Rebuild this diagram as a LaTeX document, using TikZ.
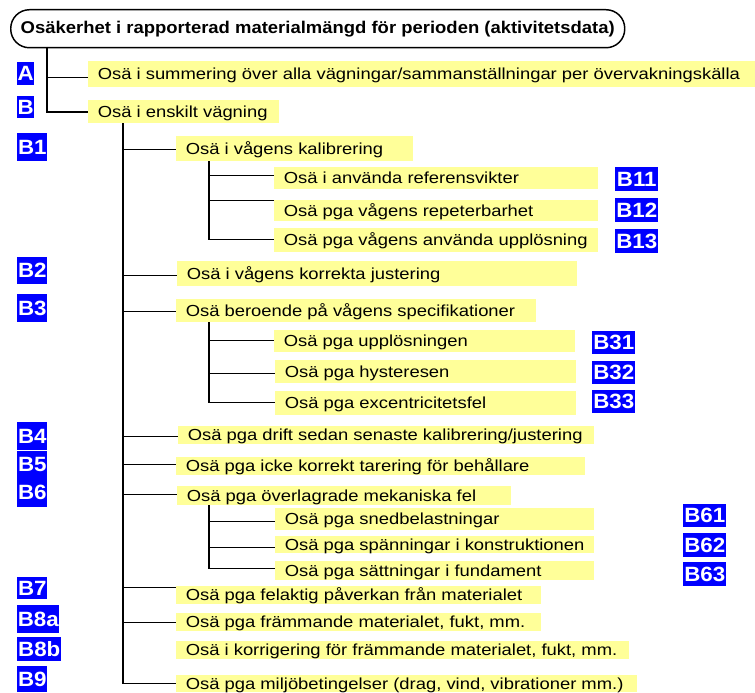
\documentclass[tikz,border=0pt]{standalone}
\usepackage{fontspec}
\setmainfont{Liberation Sans}
\usetikzlibrary{calc}
\definecolor{boxyellow}{HTML}{FFFF99}
\definecolor{lblblue}{HTML}{0000FF}
\newcommand{\sxt}[1]{\scalebox{1.15}[1]{#1}}
\tikzset{
  ybox/.style={fill=boxyellow, draw=none, inner sep=0pt, anchor=north west},
  txt/.style={inner sep=0pt, font=\fontsize{12}{14}\selectfont},
  lblbox/.style={fill=lblblue, draw=none, inner sep=0pt, anchor=north west, text=white,
    font=\fontsize{15.5}{16}\selectfont\bfseries},
  conn/.style={draw=black, line width=1.1pt},
  titlebox/.style={draw=black, line width=1.1pt, rounded corners=14pt, inner sep=0pt,
    anchor=north west, font=\fontsize{12.75}{14}\selectfont\bfseries}
}
\newcommand{\ybx}[6]{%
  \node[ybox, minimum width={(#4-#2)*0.75pt}, minimum height={(#5-#3)*0.75pt}] (#1) at (#2,#3) {};
  \node[txt, anchor=base west] (#1t) at ($(#1.west)+(9.5,5.5)$) {\sxt{#6}};
}
\newcommand{\lbx}[6]{%
  \node[lblbox, minimum width={(#4-#2)*0.75pt}, minimum height={(#5-#3)*0.75pt}] (#1) at (#2,#3) {\scalebox{1.08}[1]{#6}};
}
\newcommand{\jn}[2]{\path ($(#1.west)+(0,#2)$) coordinate (#1j);}
\begin{document}
\begin{tikzpicture}[x=0.75pt, y=-0.75pt]
\useasboundingbox (0,0) rectangle (755,692);
% title
\node[titlebox, minimum width={614*0.75pt}, minimum height={38*0.75pt}] (T) at (10,9)
  {\scalebox{1.086}[1]{Osäkerhet i rapporterad materialmängd för perioden (aktivitetsdata)}};
% yellow boxes
\ybx{A}{88}{61}{755}{87}{Osä i summering över alla vägningar/sammanställningar per övervakningskälla}
\ybx{B}{88}{100}{279}{123}{Osä i enskilt vägning}
\ybx{B1}{176}{136}{413}{161}{Osä i vågens kalibrering}
\ybx{B11}{274}{167}{598}{189}{Osä i använda referensvikter}
\ybx{B12}{274}{200}{598}{221}{Osä pga vågens repeterbarhet}
\ybx{B13}{274}{228}{598}{252}{Osä pga vågens använda upplösning}
\ybx{B2}{177}{261}{577}{286}{Osä i vågens korrekta justering}
\ybx{B3}{176}{299}{536}{322}{Osä beroende på vågens specifikationer}
\ybx{B31}{274}{330}{575}{352}{Osä pga upplösningen}
\ybx{B32}{275}{360}{576}{383}{Osä pga hysteresen}
\ybx{B33}{275}{391}{576}{415}{Osä pga excentricitetsfel}
\ybx{B4}{178}{426}{594}{444}{Osä pga drift sedan senaste kalibrering/justering}
\ybx{B5}{176}{457}{585}{475}{Osä pga icke korrekt tarering för behållare}
\ybx{B6}{177}{486}{511}{505}{Osä pga överlagrade mekaniska fel}
\ybx{B61}{275}{508}{594}{530}{Osä pga snedbelastningar}
\ybx{B62}{275}{536}{594}{553}{Osä pga spänningar i konstruktionen}
\ybx{B63}{275}{561}{594}{580}{Osä pga sättningar i fundament}
\ybx{B7}{176}{586}{541}{604}{Osä pga felaktig påverkan från materialet}
\ybx{B8a}{176}{613}{541}{631}{Osä pga främmande materialet, fukt, mm.}
\ybx{B8b}{176}{641}{629}{659}{Osä i korrigering för främmande materialet, fukt, mm.}
\ybx{B9}{176}{675}{637}{692}{Osä pga miljöbetingelser (drag, vind, vibrationer mm.)}
% labels
\lbx{lA}{17}{62}{34}{85}{A}
\lbx{lB}{17}{96}{34}{118}{B}
\lbx{lB1}{17}{133}{47}{161}{B1}
\lbx{lB11}{615}{167}{658}{191}{B11}
\lbx{lB12}{615}{198}{658}{222}{B12}
\lbx{lB13}{615}{229}{658}{253}{B13}
\lbx{lB2}{17}{257}{47}{284}{B2}
\lbx{lB3}{17}{294}{47}{322}{B3}
\lbx{lB31}{592}{331}{635}{354}{B31}
\lbx{lB32}{592}{361}{635}{384}{B32}
\lbx{lB33}{592}{390}{635}{413}{B33}
\lbx{lB4}{17}{422}{47}{450}{B4}
\lbx{lB5}{17}{451}{47}{478}{B5}
\lbx{lB6}{17}{478}{47}{507}{B6}
\lbx{lB61}{683}{504}{726}{527}{B61}
\lbx{lB62}{683}{533}{726}{557}{B62}
\lbx{lB63}{683}{562}{726}{586}{B63}
\lbx{lB7}{17}{577}{47}{599}{B7}
\lbx{lB8a}{17}{605}{59}{633}{B8a}
\lbx{lB8b}{17}{637}{61}{661}{B8b}
\lbx{lB9}{17}{666}{47}{692}{B9}
% junction points
\jn{A}{3.3}
\jn{B}{0}
\jn{B1}{0.5}
\jn{B11}{-3}
\jn{B12}{-10.5}
\jn{B13}{-1}
\jn{B2}{1.5}
\jn{B3}{0.5}
\jn{B31}{-1}
\jn{B32}{1.5}
\jn{B33}{-1}
\jn{B4}{1}
\jn{B5}{-2}
\jn{B6}{-1.5}
\jn{B61}{2}
\jn{B62}{2.5}
\jn{B63}{-2.5}
\jn{B7}{-8}
\jn{B8a}{0}
\jn{B9}{-0.5}
% trunk tops
\coordinate (t0) at (47,47);
\coordinate (tB) at (123,123);
\coordinate (t1) at (209,161);
\coordinate (t3) at (209,322);
\coordinate (t6) at (209,505);
% connectors
\draw[conn] (t0) |- (Bj);
\draw[conn] (t0 |- Aj) -- (Aj);
\draw[conn] (tB) |- (B9j);
\foreach \n in {B1,B2,B3,B4,B5,B6,B7,B8a}{\draw[conn] (tB |- \n j) -- (\n j);}
\draw[conn] (t1) |- (B13j);
\draw[conn] (t1 |- B11j) -- (B11j);
\draw[conn] (t1 |- B12j) -- (B12j);
\draw[conn] (t3) |- (B33j);
\draw[conn] (t3 |- B31j) -- (B31j);
\draw[conn] (t3 |- B32j) -- (B32j);
\draw[conn] (t6) |- (B63j);
\draw[conn] (t6 |- B61j) -- (B61j);
\draw[conn] (t6 |- B62j) -- (B62j);
\end{tikzpicture}
\end{document}
